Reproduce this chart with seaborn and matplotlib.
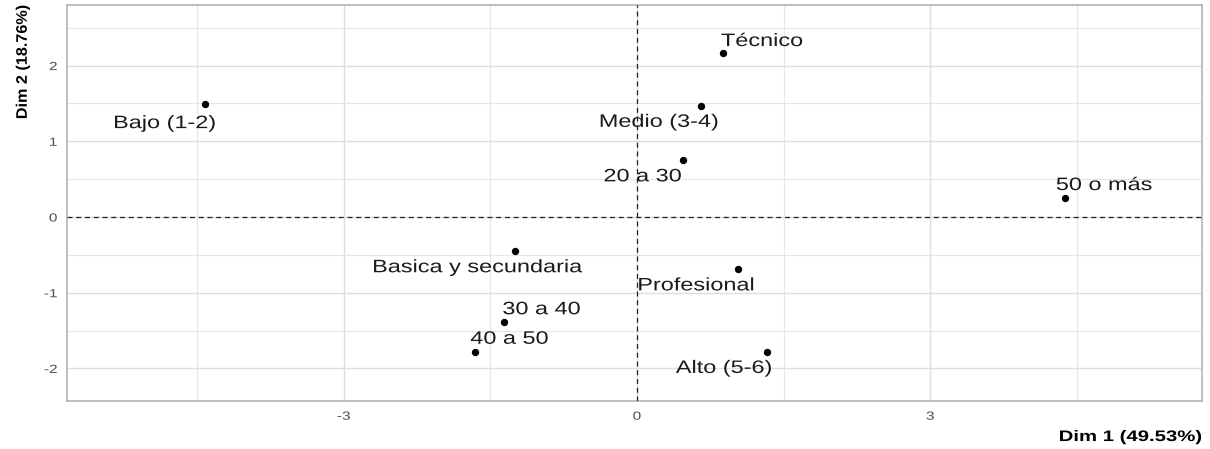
import matplotlib
matplotlib.use("Agg")
import matplotlib.pyplot as plt
from matplotlib.ticker import MultipleLocator
from matplotlib.patheffects import AbstractPathEffect
from matplotlib.transforms import Affine2D
import seaborn as sns
import pandas as pd

# Category coordinates on the first two dimensions
categories = ["Bajo (1-2)", "Técnico", "Medio (3-4)", "20 a 30", "50 o más",
              "Basica y secundaria", "Profesional", "30 a 40", "40 a 50", "Alto (5-6)"]
dim1 = [-4.42, 0.88, 0.65, 0.47, 4.38, -1.25, 1.03, -1.36, -1.66, 1.33]
dim2 = [1.49, 2.17, 1.47, 0.75, 0.25, -0.45, -0.69, -1.39, -1.78, -1.78]

x_title = "Dim 1 (49.53%)"
y_title = "Dim 2 (18.76%)"

# Label offsets (points) relative to each point
label_dx = [-29, 28, -30, -29, 28, -27, -30, 27, 25, -31]
label_dy = [-14, 8, -12, -12, 9, -12, -12, 9, 9, -12]


class Widen(AbstractPathEffect):
    """Stretch glyph outlines along the text direction around an anchor."""

    def __init__(self, factor=1.3, anchor="center"):
        super().__init__()
        self.factor = factor
        self.anchor = anchor

    def draw_path(self, renderer, gc, tpath, affine, rgbFace=None):
        if len(tpath.vertices) == 0:
            return
        ext = tpath.get_extents()
        if self.anchor == "left":
            cx = ext.x0
        elif self.anchor == "right":
            cx = ext.x1
        else:
            cx = 0.5 * (ext.x0 + ext.x1)
        stretch = Affine2D().translate(-cx, 0).scale(self.factor, 1).translate(cx, 0)
        renderer.draw_path(gc, tpath, stretch + affine, rgbFace)


df = pd.DataFrame({"categoria": categories, "Dim1": dim1, "Dim2": dim2})

sns.set_style("white")
plt.rcParams["font.family"] = ["Liberation Sans", "DejaVu Sans"]

fig = plt.figure(figsize=(12.1, 4.49), dpi=100)
ax = fig.add_axes([0.0554, 0.1069, 0.938, 0.882])

sns.scatterplot(data=df, x="Dim1", y="Dim2", ax=ax, color="black", s=28,
                edgecolor="black", linewidth=0, zorder=4)

for lab, x, y, dx, dy in zip(categories, dim1, dim2, label_dx, label_dy):
    ax.annotate(lab, (x, y), xytext=(dx, dy), textcoords="offset points",
                ha="center", va="center", fontsize=13, color="#1a1a1a", zorder=5,
                path_effects=[Widen(1.3, "center")])

ax.axhline(0, color="#222222", linestyle=(0, (4, 3)), linewidth=0.9, zorder=3)
ax.axvline(0, color="#222222", linestyle=(0, (4, 3)), linewidth=0.9, zorder=3)

ax.set_xlim(-5.83, 5.78)
ax.set_ylim(-2.43, 2.80)
ax.xaxis.set_major_locator(MultipleLocator(3))
ax.xaxis.set_minor_locator(MultipleLocator(1.5))
ax.yaxis.set_major_locator(MultipleLocator(1))
ax.yaxis.set_minor_locator(MultipleLocator(0.5))

ax.grid(which="major", color="#dedede", linewidth=1.0, zorder=0)
ax.grid(which="minor", color="#e6e6e6", linewidth=0.8, zorder=0)
ax.set_axisbelow(True)

for sp in ax.spines.values():
    sp.set_color("#b3b3b3")
    sp.set_linewidth(1.2)

ax.tick_params(which="major", length=3, width=0.8, color="#b3b3b3",
               labelsize=8.5, labelcolor="#4d4d4d")
ax.tick_params(axis="y", which="major", pad=4)
ax.tick_params(axis="x", which="major", pad=4)
ax.tick_params(which="minor", length=0)
xt = ax.set_xticklabels([f"{int(t)}" for t in ax.get_xticks()])
yt = ax.set_yticklabels([f"{int(t)}" for t in ax.get_yticks()])
for t in xt:
    t.set_path_effects([Widen(1.3, "center")])
for t in yt:
    t.set_path_effects([Widen(1.3, "right")])

ax.set_xlabel(x_title, fontsize=11, fontweight="bold", color="black",
              path_effects=[Widen(1.33, "right")])
ax.xaxis.set_label_coords(1.0, -0.091)
ax.xaxis.label.set_ha("right")
ax.xaxis.label.set_va("center")
ax.set_ylabel(y_title, fontsize=11, fontweight="bold", color="black",
              path_effects=[Widen(1.06, "right")])
ax.yaxis.set_label_coords(-0.039, 1.0)
ax.yaxis.label.set_va("center")
ax.yaxis.label.set_ha("right")

fig.savefig("out.png", dpi=100)
